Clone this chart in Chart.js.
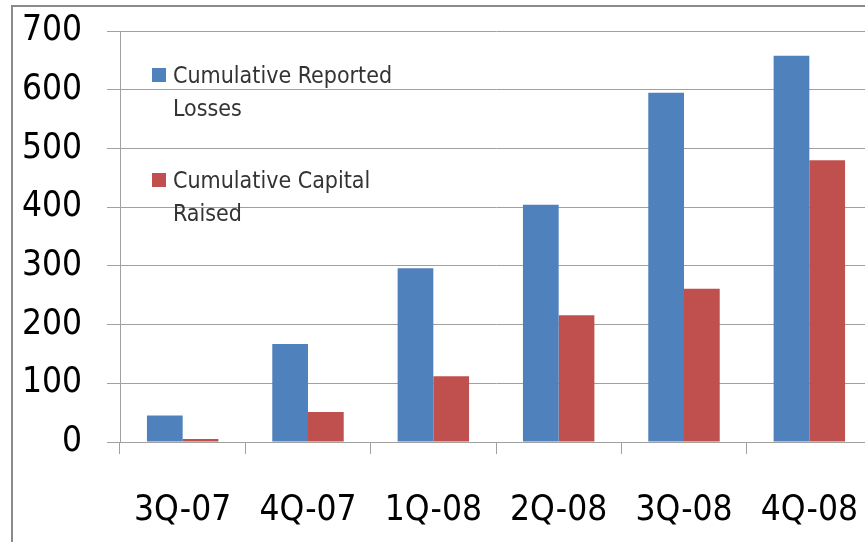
<!DOCTYPE html>
<html>
<head>
<meta charset="utf-8">
<script src="https://cdn.jsdelivr.net/npm/chart.js@4"></script>
<style>
    body { margin: 0; width: 865px; height: 542px; overflow: hidden; background: #fff; position: relative; }
    #frame { position: absolute; left: 11px; top: 5px; width: 900px; height: 600px; border-left: 2px solid #8a8a8a; border-top: 2px solid #8a8a8a; }
    #chart { position: absolute; left: 0; top: 0; }
    .legend { position: absolute; font-family: "DejaVu Sans Condensed", "DejaVu Sans", sans-serif; font-size: 23px; color: #333; line-height: 33px; }
    .legend .sw { position: absolute; left: 0; top: 9px; width: 14px; height: 14px; }
    .legend .tx { position: absolute; left: 21px; top: 0; white-space: nowrap; }
</style>
</head>
<body>
<div id="frame"></div>
<canvas id="chart" width="880" height="542"></canvas>
<div id="legend"></div>
<script>
// quarters on the x axis
const quarters = ['3Q-07', '4Q-07', '1Q-08', '2Q-08', '3Q-08', '4Q-08'];
// series values
const reportedLosses = [45, 167, 296, 404, 595, 658];
const capitalRaised = [5, 51, 112, 216, 261, 480];
const yTicks = [0, 100, 200, 300, 400, 500, 600, 700];

const blue = '#4F81BD';
const red = '#C0504D';

document.addEventListener('DOMContentLoaded', function () {
    const ctx = document.getElementById('chart').getContext('2d');

    new Chart(ctx, {
        type: 'bar',
        data: {
            labels: quarters,
            datasets: [
                {
                    label: 'Cumulative Reported Losses',
                    data: reportedLosses,
                    backgroundColor: blue,
                },
                {
                    label: 'Cumulative Capital Raised',
                    data: capitalRaised,
                    backgroundColor: red,
                },
            ],
        },
        options: {
            responsive: false,
            animation: false,
            categoryPercentage: 0.57,
            barPercentage: 1.0,
            layout: { padding: { top: 31, right: 8, left: 0, bottom: 0 } },
            plugins: {
                legend: { display: false },
                tooltip: { enabled: false },
            },
            scales: {
                x: {
                    grid: { drawOnChartArea: false, tickLength: 12, color: '#a0a0a0', offset: true },
                    border: { color: '#a0a0a0' },
                    ticks: {
                        color: '#000',
                        padding: 36,
                        font: { family: '"DejaVu Sans Condensed", "DejaVu Sans", sans-serif', size: 35 },
                        maxRotation: 0,
                    },
                    afterFit: scale => {
                        scale.height = 100;
                        scale.paddingLeft = 0;
                        scale.paddingRight = 0;
                    },
                },
                y: {
                    min: 0,
                    max: 700,
                    afterBuildTicks: scale => { scale.ticks = yTicks.map(v => ({ value: v })); },
                    grid: { tickLength: 13, color: '#a0a0a0' },
                    border: { color: '#a0a0a0' },
                    ticks: {
                        color: '#000',
                        padding: 25,
                        font: { family: '"DejaVu Sans Condensed", "DejaVu Sans", sans-serif', size: 35 },
                    },
                    afterFit: scale => {
                        scale.width = 120;
                        scale.paddingTop = 0;
                        scale.paddingBottom = 0;
                    },
                },
            },
        },
    });

    // legend drawn as text inside the plot, wrapped like the original
    const items = [
        { color: blue, lines: ['Cumulative Reported', 'Losses'], x: 152, y: 59 },
        { color: red, lines: ['Cumulative Capital', 'Raised'], x: 152, y: 164 },
    ];
    const legend = document.getElementById('legend');
    items.forEach(item => {
        const div = document.createElement('div');
        div.className = 'legend';
        div.style.left = item.x + 'px';
        div.style.top = item.y + 'px';
        div.innerHTML = `<div class="sw" style="background:${item.color}"></div>
            <div class="tx">${item.lines.join('<br>')}</div>`;
        legend.appendChild(div);
    });
});
</script>
</body>
</html>
